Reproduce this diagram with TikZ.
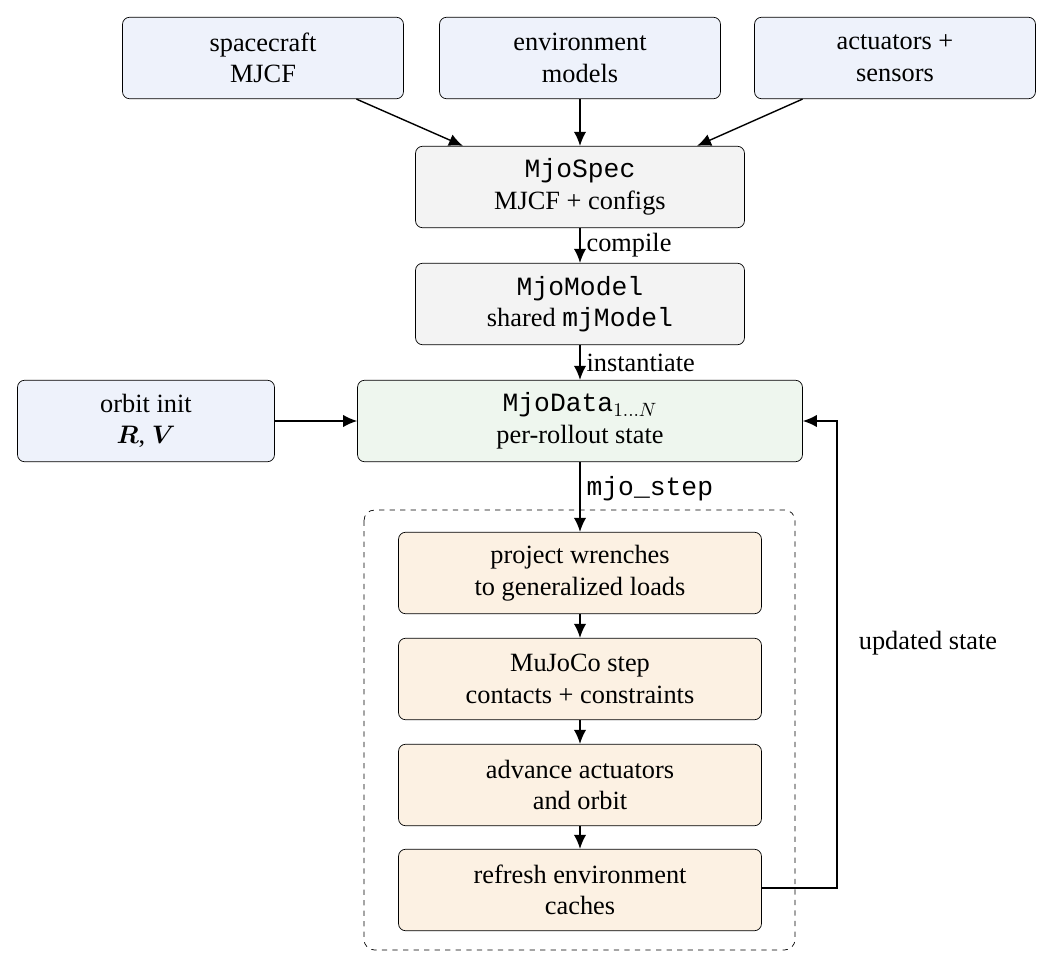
\documentclass[tikz,border=0pt]{standalone}
\usepackage{amsmath,bm}
\usepackage{fontspec}
\setmainfont{Liberation Serif}
\setmonofont{Liberation Mono}
\usetikzlibrary{arrows.meta}
\definecolor{inblue}{HTML}{EEF2FB}
\definecolor{ingray}{HTML}{F3F3F3}
\definecolor{ingreen}{HTML}{EEF6EE}
\definecolor{inorange}{HTML}{FCF1E3}
\tikzset{
  box/.style={draw=black,rounded corners=4pt,align=center,minimum height=1.63cm,font=\fontsize{15}{18}\selectfont},
  src/.style={box,fill=inblue,minimum width=5.62cm},
  core/.style={box,fill=ingray,minimum width=6.58cm},
  stepbox/.style={box,fill=inorange,minimum width=7.26cm},
  lab/.style={font=\fontsize{15}{18}\selectfont},
  arr/.style={-{Latex[length=8pt,width=7pt]},thick}
}
\begin{document}
\begin{tikzpicture}[x=0.02cm,y=-0.02cm]
    \useasboundingbox (0,0) rectangle (1054,969);
    %inputs
    \node[src] (craft) at (263,58) {spacecraft\\MJCF};
    \node[src] (env) at (580,58) {environment\\models};
    \node[src] (act) at (895,58) {actuators +\\sensors};
    %spec, model, data
    \node[core] (spec) at (580,187) {\texttt{MjoSpec}\\MJCF + configs};
    \node[core] (model) at (580,304) {\texttt{MjoModel}\\shared \texttt{mjModel}};
    \node[box,fill=ingreen,minimum width=8.9cm] (data) at (580,421) {\texttt{MjoData}$_{1\ldots N}$\\per-rollout state};
    \node[src,minimum width=5.14cm] (orbit) at (146,421) {orbit init\\$\bm{R}$, $\bm{V}$};
    %step pipeline
    \draw[dashed,rounded corners=6pt] (364,510) rectangle (795,950);
    \node[stepbox] (proj) at (580,573) {project wrenches\\to generalized loads};
    \node[stepbox] (mjc) at (580,679) {MuJoCo step\\contacts + constraints};
    \node[stepbox] (adv) at (580,785) {advance actuators\\and orbit};
    \node[stepbox] (refr) at (580,890) {refresh environment\\caches};
    \coordinate (c1) at (837,888);
    \coordinate (c2) at (837,421);

    \draw[arr] (craft) -- (spec.north -| 463,0);
    \draw[arr] (env) -- (spec);
    \draw[arr] (act) -- (spec.north -| 697,0);
    \draw[arr] (spec) -- node[lab,right] {compile} (model);
    \draw[arr] (model) -- node[lab,right] {instantiate} (data);
    \draw[arr] (orbit) -- (data);
    \draw[arr] (data) -- node[lab,right,pos=0.38] {\texttt{mjo\_step}} (proj);
    \draw[arr] (proj) -- (mjc);
    \draw[arr] (mjc) -- (adv);
    \draw[arr] (adv) -- (refr);
    \draw[arr] (refr.east |- c1) -- (c1) -- (c2) -- (data);
    \node[lab] (upd) at (928,643) {updated state};
\end{tikzpicture}
\end{document}
